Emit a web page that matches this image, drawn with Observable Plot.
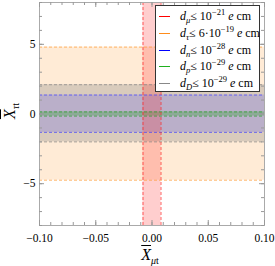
<!DOCTYPE html>
<html><head><meta charset="utf-8">
<script src="https://cdn.jsdelivr.net/npm/d3@7"></script>
<script src="https://cdn.jsdelivr.net/npm/@observablehq/plot@0.6"></script>
<style>
body{margin:0;background:#fff;font-family:"Liberation Serif",serif;}
#wrap{position:relative;width:275px;height:266px;}
#legend{position:absolute;left:155px;top:5px;width:105px;height:87px;background:#fff;border:1px solid #333;box-sizing:border-box;font-size:12px;}
.row{position:absolute;left:0;height:16px;line-height:16px;white-space:nowrap;}
.sw{position:absolute;left:3px;top:8px;width:11px;height:0;border-top:1.5px solid;}
.lt{position:absolute;left:24px;top:0;}
.lab{position:absolute;font-size:16px;white-space:nowrap;line-height:18px;}
.ov{text-decoration:overline;font-style:italic;}
sub,sup{font-size:8.5px;line-height:0;}
</style></head>
<body><div id="wrap"></div>
<script>
const xDomain = [-0.1, 0.1];
const yDomain = [-8, 8];
const xTicks = [-0.1, -0.05, 0, 0.05, 0.1];
const yTicks = [-5, 0, 5];
const xMinor = d3.range(-10, 11).map(i => i / 100);
const yMinor = d3.range(-8, 9);

const bandKeys   = ["mu", "tau", "n", "p", "D"];
const bandAxis   = ["x", "y", "y", "y", "y"];
const bandLo     = [-0.008, -4.75, -1.32, -0.15, -2.0];
const bandHi     = [0.008, 4.8, 1.36, 0.15, 2.1];
const bandColors = ["#ff2020", "#ff9a30", "#4040ff", "#22a022", "#808080"];
const bandOpac   = [0.22, 0.2, 0.2, 0.3, 0.3];
const legendHTML = [
  "<i>d</i><sub><i>μ</i></sub>≤ 10<sup>−21</sup> <i>e</i> cm",
  "<i>d</i><sub><i>τ</i></sub>≤ 6·10<sup>−19</sup> <i>e</i> cm",
  "<i>d</i><sub><i>n</i></sub>≤ 10<sup>−28</sup> <i>e</i> cm",
  "<i>d</i><sub><i>p</i></sub>≤ 10<sup>−29</sup> <i>e</i> cm",
  "<i>d</i><sub><i>D</i></sub>≤ 10<sup>−29</sup> <i>e</i> cm"
];
const legendColors = ["#ff0000", "#ff8c1a", "#0000ff", "#1fb01f", "#888888"];
const drawOrder = [1, 4, 2, 3, 0];

const bands = drawOrder.map(i => ({key: bandKeys[i], axis: bandAxis[i], lo: bandLo[i], hi: bandHi[i], color: bandColors[i], op: bandOpac[i]}));
const hBands = bands.filter(b => b.axis === "y");
const vBands = bands.filter(b => b.axis === "x");
const edges = (arr) => arr.flatMap(b => [{v: b.lo, color: b.color}, {v: b.hi, color: b.color}]);

const W = 275, H = 266, mL = 39, mR = 11, mT = 2, mB = 41;
const pH = H - mT - mB, pW = W - mL - mR;
const fmt = d => (d < 0 ? "−" : "") + Math.abs(d).toFixed(2);
const fmtY = d => (d < 0 ? "−" : "") + Math.abs(d);

const plot = Plot.plot({
  width: W, height: H, marginLeft: mL, marginRight: mR, marginTop: mT, marginBottom: mB,
  x: {domain: xDomain}, y: {domain: yDomain},
  style: {fontFamily: "Liberation Serif, serif", fontSize: "11.5px", color: "#000", background: "#fff"},
  marks: [
    ...hBands.map(b => Plot.rect([b], {y1: "lo", y2: "hi", fill: "color", fillOpacity: b.op})),
    ...vBands.map(b => Plot.rect([b], {x1: "lo", x2: "hi", fill: "color", fillOpacity: b.op})),
    ...hBands.map(b => Plot.ruleY(edges([b]), {y: "v", stroke: "color", strokeDasharray: "3,2", strokeWidth: 1, strokeOpacity: 0.7})),
    ...vBands.map(b => Plot.ruleX(edges([b]), {x: "v", stroke: "color", strokeDasharray: "3,2", strokeWidth: 1, strokeOpacity: 0.7})),
    Plot.frame({stroke: "#aaa", strokeWidth: 1}),
    Plot.tickX(xMinor, {x: d => d, insetTop: pH - 3, stroke: "#999"}),
    Plot.tickX(xMinor, {x: d => d, insetBottom: pH - 3, stroke: "#999"}),
    Plot.tickX(xTicks, {x: d => d, insetTop: pH - 5, stroke: "#999"}),
    Plot.tickX(xTicks, {x: d => d, insetBottom: pH - 5, stroke: "#999"}),
    Plot.tickY(yMinor, {y: d => d, insetRight: pW - 3, stroke: "#999"}),
    Plot.tickY(yMinor, {y: d => d, insetLeft: pW - 3, stroke: "#999"}),
    Plot.tickY(yTicks, {y: d => d, insetRight: pW - 5, stroke: "#999"}),
    Plot.tickY(yTicks, {y: d => d, insetLeft: pW - 5, stroke: "#999"}),
    Plot.axisX({ticks: xTicks, tickSize: 0, tickPadding: 8, tickFormat: fmt, label: null}),
    Plot.axisY({ticks: yTicks, tickSize: 0, tickPadding: 4, tickFormat: fmtY, label: null})
  ]
});
const wrap = document.getElementById("wrap");
wrap.appendChild(plot);

const leg = document.createElement("div");
leg.id = "legend";
legendHTML.forEach((h, i) => {
  const r = document.createElement("div");
  r.className = "row";
  r.style.top = (2 + i * 16.8) + "px";
  r.innerHTML = `<span class="sw" style="border-color:${legendColors[i]}"></span><span class="lt">${h}</span>`;
  leg.appendChild(r);
});
wrap.appendChild(leg);

const xl = document.createElement("div");
xl.className = "lab";
xl.style.left = "150px"; xl.style.top = "255px";
xl.style.transform = "translate(-50%,-50%)";
xl.innerHTML = `<span class="ov">X</span><sub style="font-size:10px"><i>μ</i>t</sub>`;
wrap.appendChild(xl);
const yl = document.createElement("div");
yl.className = "lab";
yl.style.left = "10px"; yl.style.top = "111px";
yl.style.transform = "translate(-50%,-50%) rotate(-90deg)";
yl.innerHTML = `<span class="ov">X</span><sub style="font-size:10px"><i>τ</i>t</sub>`;
wrap.appendChild(yl);
</script></body></html>
